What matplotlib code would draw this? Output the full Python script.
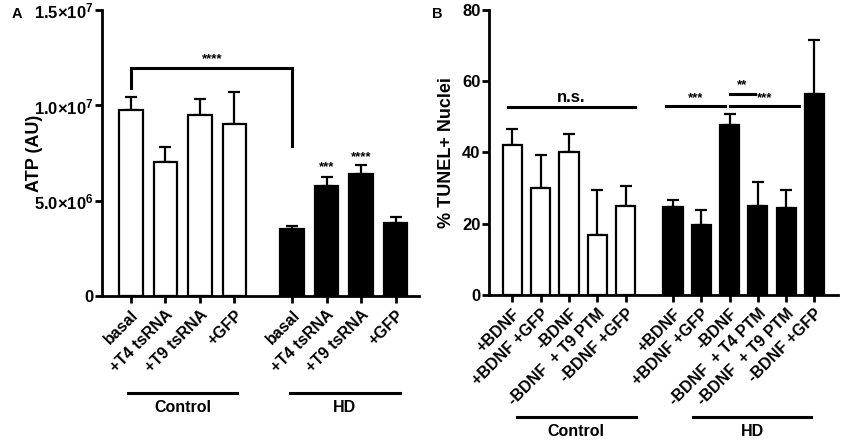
import numpy as np
import matplotlib
matplotlib.use('Agg')
import matplotlib.pyplot as plt
import matplotlib.transforms as mtransforms

plt.rcParams['font.family'] = ['Liberation Sans', 'DejaVu Sans']
plt.rcParams['font.weight'] = 'bold'
plt.rcParams['mathtext.fontset'] = 'custom'
plt.rcParams['mathtext.rm'] = 'Liberation Sans:bold'
plt.rcParams['mathtext.it'] = 'Liberation Sans:bold'
plt.rcParams['mathtext.bf'] = 'Liberation Sans:bold'

# ── Panel A data: ATP ──────────────────────────────────────────────
atp_labels = ['basal', '+T4 tsRNA', '+T9 tsRNA', '+GFP',
              'basal', '+T4 tsRNA', '+T9 tsRNA', '+GFP']
atp_mean = [9.75e6, 7.05e6, 9.5e6, 9.05e6, 3.5e6, 5.78e6, 6.43e6, 3.84e6]
atp_err = [0.72e6, 0.78e6, 0.84e6, 1.65e6, 0.2e6, 0.45e6, 0.47e6, 0.32e6]
atp_hd = [False, False, False, False, True, True, True, True]
atp_ticklabels = ['0', r'5.0×10$^{6}$', r'1.0×10$^{7}$', r'1.5×10$^{7}$']

# ── Panel B data: TUNEL ────────────────────────────────────────────
tunel_labels = ['+BDNF', '+BDNF +GFP', '-BDNF', '-BDNF  + T9 PTM', '-BDNF +GFP',
                '+BDNF', '+BDNF +GFP', '-BDNF', '-BDNF  + T4 PTM',
                '-BDNF  + T9 PTM', '-BDNF +GFP']
tunel_mean = [42.2, 30.0, 40.2, 16.8, 24.9, 24.8, 19.5, 47.7, 25.0, 24.5, 56.4]
tunel_err = [4.5, 9.3, 5.1, 12.7, 5.6, 1.8, 4.4, 3.0, 6.6, 5.0, 15.2]
tunel_hd = [False] * 5 + [True] * 6

LW = 2.0


def style_axes(ax):
    for s in ['top', 'right']:
        ax.spines[s].set_visible(False)
    for s in ['left', 'bottom']:
        ax.spines[s].set_linewidth(LW)
    ax.tick_params(axis='both', width=LW, length=5)
    ax.tick_params(axis='y', pad=1, labelsize=12)
    ax.tick_params(axis='x', pad=3, labelsize=11.5)


def draw_bars(ax, pos, mean, err, hd):
    colors = ['black' if h else 'white' for h in hd]
    ax.bar(pos, mean, width=0.68, color=colors, edgecolor='black',
           linewidth=1.6, zorder=2)
    ax.errorbar(pos, mean, yerr=[np.zeros(len(err)), err], fmt='none',
                ecolor='black', elinewidth=1.6, capsize=4, capthick=1.6,
                zorder=1)


def group_line(ax, x0, x1, y_line, y_text, name):
    trans = mtransforms.blended_transform_factory(ax.transData, ax.transAxes)
    ax.plot([x0, x1], [y_line, y_line], color='black', lw=2.2,
            transform=trans, clip_on=False)
    ax.text((x0 + x1) / 2, y_text, name, transform=trans, ha='center',
            va='center', fontsize=11.5, fontweight='bold')


fig = plt.figure(figsize=(8.43, 4.42), dpi=100)

# ── Panel A ────────────────────────────────────────────────────────
axA = fig.add_axes([0.121, 0.330, 0.376, 0.647])
posA = np.array([0, 1, 2, 3, 4.67, 5.67, 6.67, 7.67])
draw_bars(axA, posA, atp_mean, atp_err, atp_hd)
style_axes(axA)
axA.set_xlim(-0.84, 8.35)
axA.set_ylim(0, 1.5e7)
axA.set_yticks([0, 5e6, 1e7, 1.5e7])
axA.set_yticklabels(atp_ticklabels, fontweight='bold')
axA.set_xticks(posA)
axA.set_xticklabels(atp_labels, rotation=45, ha='right', va='top',
                    rotation_mode='anchor', fontweight='bold')
axA.set_ylabel('ATP (AU)', fontsize=13, fontweight='bold')
axA.yaxis.set_label_coords(-0.185, 0.5)

# significance bracket
axA.plot([posA[0], posA[0], posA[4], posA[4]],
         [10.9e6, 11.95e6, 11.95e6, 7.9e6], color='black', lw=2.2,
         solid_joinstyle='miter')
axA.text(2.36, 12.1e6, '****', ha='center', va='bottom', fontsize=9.5)
axA.text(posA[5], 6.45e6, '***', ha='center', va='bottom', fontsize=9.5)
axA.text(posA[6], 6.95e6, '****', ha='center', va='bottom', fontsize=9.5)

group_line(axA, -0.08, 3.08, -0.338, -0.388, 'Control')
group_line(axA, 4.6, 7.8, -0.338, -0.388, 'HD')
fig.text(0.014, 0.968, 'A', fontsize=10.5, fontweight='bold', va='center')

# ── Panel B ────────────────────────────────────────────────────────
axB = fig.add_axes([0.580, 0.333, 0.414, 0.644])
posB = np.array([0, 1, 2, 3, 4, 5.67, 6.67, 7.67, 8.67, 9.67, 10.67])
draw_bars(axB, posB, tunel_mean, tunel_err, tunel_hd)
style_axes(axB)
axB.set_xlim(-0.83, 11.5)
axB.set_ylim(0, 80)
axB.set_yticks([0, 20, 40, 60, 80])
axB.set_xticks(posB)
axB.set_xticklabels(tunel_labels, rotation=45, ha='right', va='top',
                    rotation_mode='anchor', fontweight='bold')
axB.set_ylabel('% TUNEL+ Nuclei', fontsize=13, fontweight='bold', labelpad=5)

sig_lines = [(-0.16, 4.33, 52.8, 'n.s.', 12), (5.42, 7.51, 53.1, '***', 9.5),
             (7.67, 8.57, 56.5, '**', 9.5), (7.67, 10.12, 53.1, '***', 9.5)]
for x0, x1, y, lab, fs in sig_lines:
    axB.plot([x0, x1], [y, y], color='black', lw=2.2)
    axB.text((x0 + x1) / 2, y + 0.6, lab, ha='center', va='bottom',
             fontsize=fs)

group_line(axB, 0.16, 4.35, -0.429, -0.48, 'Control')
group_line(axB, 6.38, 10.55, -0.429, -0.48, 'HD')
fig.text(0.513, 0.968, 'B', fontsize=10.5, fontweight='bold', va='center')

fig.savefig('out.png', dpi=100)
